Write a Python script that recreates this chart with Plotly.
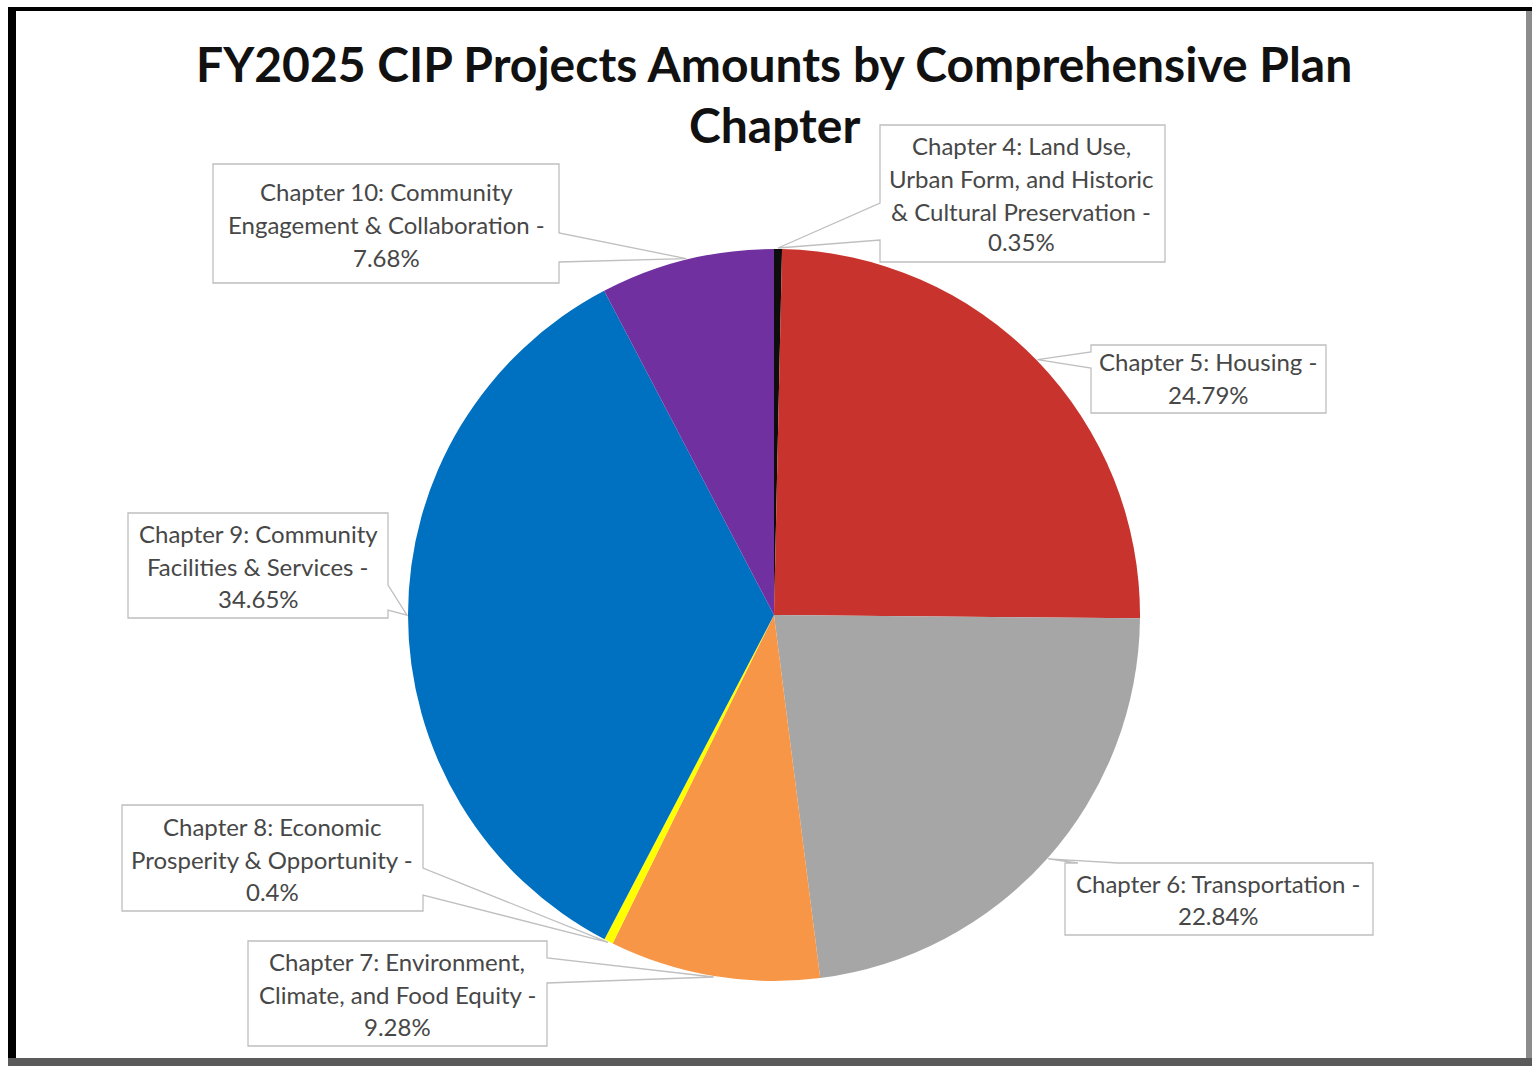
import math
import plotly.graph_objects as go

W, H = 1532, 1066

# ---- data ----
chapters = [
    "Chapter 4: Land Use, Urban Form, and Historic & Cultural Preservation",
    "Chapter 5: Housing",
    "Chapter 6: Transportation",
    "Chapter 7: Environment, Climate, and Food Equity",
    "Chapter 8: Economic Prosperity & Opportunity",
    "Chapter 9: Community Facilities & Services",
    "Chapter 10: Community Engagement & Collaboration",
]
percents = [0.35, 24.79, 22.84, 9.28, 0.4, 34.65, 7.68]
label_lines = [
    ["Chapter 4: Land Use,", "Urban Form, and Historic", "& Cultural Preservation -"],
    ["Chapter 5: Housing -"],
    ["Chapter 6: Transportation -"],
    ["Chapter 7: Environment,", "Climate, and Food Equity -"],
    ["Chapter 8: Economic", "Prosperity & Opportunity -"],
    ["Chapter 9: Community", "Facilities & Services -"],
    ["Chapter 10: Community", "Engagement & Collaboration -"],
]
colors = ["#0d0d0d", "#C8342D", "#A6A6A6", "#F79646", "#FFFF00", "#0070C0", "#7030A0"]
title_lines = ["FY2025 CIP Projects Amounts by Comprehensive Plan", "Chapter"]

# ---- layout helpers (pixel -> paper) ----
def X(px):
    return px / W

def Y(py):
    return 1 - py / H

cx, cy, R = 774, 615, 366

fig = go.Figure(go.Pie(
    labels=chapters, values=percents, sort=False, direction="clockwise",
    rotation=0, marker=dict(colors=colors, line=dict(width=0)),
    textinfo="none", hoverinfo="label+percent", showlegend=False,
    domain=dict(x=[X(cx - R), X(cx + R)], y=[Y(cy + R), Y(cy - R)]),
))

# tip positions from data (slice mid-angles)
total = sum(percents)
tips = []
cum = 0
for v in percents:
    mid = (cum + v / 2) / total * 2 * math.pi
    cum += v
    tips.append((cx + (R + 1) * math.sin(mid), cy - (R + 1) * math.cos(mid)))

# callout boxes: (x0, y0, x1, y1, side, g0, g1, text_cx, line_ys)
boxes = [
    (880, 125, 1165, 262, "left", 203, 240, 1021, [146, 179, 211, 242]),
    (1091, 345, 1326, 413, "left", 352, 368, 1208, [361, 394]),
    (1065, 863, 1373, 935, "top", 1078, 1118, 1218, [883, 915]),
    (248, 941, 547, 1046, "right", 958, 983, 397, [961, 994, 1026]),
    (122, 805, 423, 911, "right", 868, 895, 272, [826, 859, 891]),
    (128, 513, 388, 618, "right", 585, 610, 258, [533, 566, 598]),
    (213, 164, 559, 283, "right", 233, 262, 386, [192, 224, 257]),
]

shapes = []
annotations = []

def P(px, py):
    return f"{X(px):.6f},{Y(py):.6f}"

for i, (x0, y0, x1, y1, side, g0, g1, tcx, ys) in enumerate(boxes):
    tx, ty = tips[i]
    if side == "right":
        pts = [(x0, y0), (x1, y0), (x1, g0), (tx, ty), (x1, g1), (x1, y1), (x0, y1)]
    elif side == "left":
        pts = [(x0, y0), (x1, y0), (x1, y1), (x0, y1), (x0, g1), (tx, ty), (x0, g0)]
    else:  # top
        pts = [(x0, y0), (g0, y0), (tx, ty), (g1, y0), (x1, y0), (x1, y1), (x0, y1)]
    path = "M " + " L ".join(P(a, b) for a, b in pts) + " Z"
    shapes.append(dict(type="path", xref="paper", yref="paper", path=path,
                       fillcolor="white", line=dict(color="#BFBFBF", width=1.3),
                       layer="above"))
    lines = label_lines[i] + [f"{percents[i]}%"]
    for t, yy in zip(lines, ys):
        annotations.append(dict(text=t, x=X(tcx), y=Y(yy), xref="paper", yref="paper",
                                showarrow=False, xanchor="center", yanchor="middle",
                                font=dict(family="Lato", size=24, color="#474747")))

for t, yy in zip(title_lines, [63, 125]):
    annotations.append(dict(text=f"<b>{t}</b>", x=X(774), y=Y(yy), xref="paper", yref="paper",
                            showarrow=False, xanchor="center", yanchor="middle",
                            font=dict(family="Lato", size=48, color="#111111")))

# frame
frame = [
    (8, 7, 16, H, "#000000"),
    (8, 7, W, 11, "#000000"),
    (1526, 11, W, H, "#8c8c8c"),
    (8, 1058, W, H, "#5a5a5a"),
]
for x0, y0, x1, y1, c in frame:
    shapes.append(dict(type="rect", xref="paper", yref="paper",
                       x0=X(x0), x1=X(x1), y0=Y(y1), y1=Y(y0),
                       fillcolor=c, line=dict(width=0), layer="above"))

fig.update_layout(
    width=W, height=H, margin=dict(l=0, r=0, t=0, b=0),
    paper_bgcolor="white", plot_bgcolor="white",
    shapes=shapes, annotations=annotations,
)

fig.write_html("out.html")
